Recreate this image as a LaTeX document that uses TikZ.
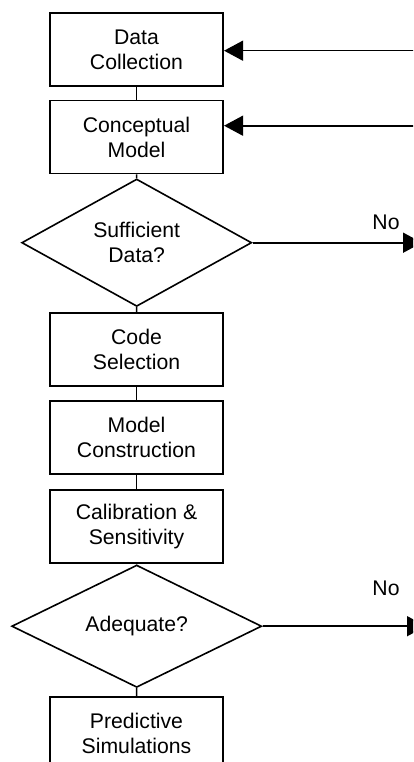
\documentclass[tikz,border=0pt]{standalone}
\usepackage{fontspec}
\setmainfont{Liberation Sans}
\usetikzlibrary{shapes.geometric,arrows.meta}

\tikzset{
  every node/.style={font=\fontsize{21.2bp}{25bp}\selectfont, align=center},
  procbox/.style={draw, line width=1.6bp, rectangle, minimum width=173.5bp,
                  minimum height=73bp, inner sep=0pt},
  decision/.style={draw, line width=1.6bp, diamond, inner sep=0pt},
  link/.style={line width=1.6bp},
  feed/.style={line width=1.6bp, -{Triangle[length=19bp,width=20bp]}},
}

\begin{document}
\begin{tikzpicture}[x=1bp,y=-1bp]
  \clip (0,0) rectangle (413,762);
  \fill[white] (0,0) rectangle (413,762);

  % main chain of steps
  \node[procbox] (dc)  at (136.5,49.7)  {Data\\Collection};
  \node[procbox] (cm)  at (136.5,137)   {Conceptual\\Model};
  \node[decision, minimum width=230bp, minimum height=107.7bp]
                 (sd)  at (136.7,242.7) {Sufficient\\Data?};
  \node[procbox] (cs)  at (136.5,349.7) {Code\\Selection};
  \node[procbox] (mc)  at (136.5,437.7) {Model\\Construction};
  \node[procbox] (cal) at (136.5,526.7) {Calibration \&\\Sensitivity};
  \node[decision, minimum width=250bp, minimum height=109bp]
                 (ad)  at (136.7,626.2) {Adequate?};
  \node[procbox] (ps)  at (136.5,733.2) {Predictive\\Simulations};

  % vertical links
  \draw[link] (dc) -- (cm);
  \draw[link] (cm) -- (sd);
  \draw[link] (sd) -- (cs);
  \draw[link] (cs) -- (mc);
  \draw[link] (mc) -- (cal);
  \draw[link] (cal) -- (ad);
  \draw[link] (ad) -- (ps);

  % returning arrows entering from the right
  \coordinate (r1) at (414,50.7);
  \coordinate (r2) at (414,125.7);
  \draw[feed] (r1) -- (r1 -| dc.east);
  \draw[feed] (r2) -- (r2 -| cm.east);

  % "No" exits
  \coordinate (n1) at (422,242.7);
  \coordinate (n2) at (426,626.2);
  \draw[feed] (sd.east) -- (n1);
  \draw[feed] (ad.east) -- (n2);
  \node (no1) at (386,222) {No};
  \node (no2) at (386,588) {No};
\end{tikzpicture}
\end{document}
